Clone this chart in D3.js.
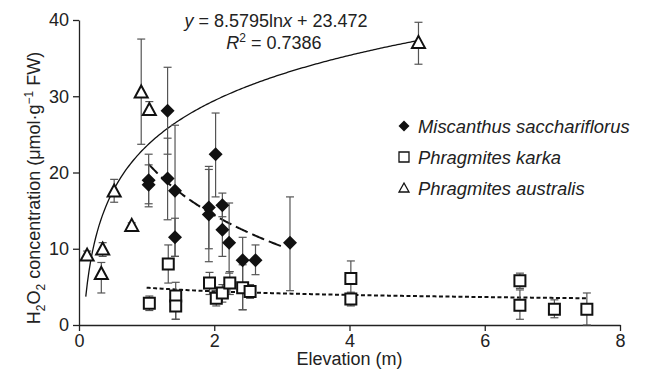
<!DOCTYPE html>
<html>
<head>
<meta charset="utf-8">
<script src="https://cdn.jsdelivr.net/npm/d3@7"></script>
<style>
  body { margin: 0; background: #fff; }
  svg text { font-family: "Liberation Sans", Arial, sans-serif; fill: #222; }
</style>
</head>
<body>
<div id="chart"></div>
<script>
// data: [elevation, H2O2, error low, error high]
const miscanthus = [
  [1.03, 19.0, 15.5, 22.4], [1.03, 18.4, 15.9, 21.0], [1.31, 28.1, 22.4, 33.8],
  [1.31, 19.2, 13.8, 24.5], [1.42, 17.6, 9.0, 26.2], [1.42, 11.5, 9.0, 14.0],
  [1.92, 15.4, 10.0, 20.8], [1.92, 14.5, 8.3, 20.4], [2.02, 22.4, 16.8, 27.8],
  [2.12, 15.7, 14.2, 17.3], [2.12, 12.5, 9.0, 16.0], [2.22, 10.8, 6.8, 16.0],
  [2.42, 8.5, 2.0, 11.5], [2.61, 8.5, 6.6, 10.5], [3.12, 10.8, 4.5, 16.8]
];
const karka = [
  [1.04, 2.85, 1.9, 3.8], [1.32, 8.0, 5.5, 10.5], [1.43, 3.8, 0.75, 5.6],
  [1.43, 2.5, 0.75, 4.5], [1.93, 5.5, 4.0, 6.9], [2.03, 3.5, 2.5, 4.5],
  [2.12, 4.2, 3.0, 5.3], [2.23, 5.5, 4.0, 7.0], [2.42, 4.9, 2.0, 7.9],
  [2.53, 4.4, 3.5, 5.3], [4.02, 6.1, 3.8, 8.4], [4.02, 3.4, 2.5, 4.3],
  [6.52, 5.8, 4.8, 6.8], [6.52, 2.6, 0.75, 4.6], [7.03, 2.05, 0.95, 3.3],
  [7.51, 2.05, 0, 4.2]
];
const australis = [
  [0.12, 9.1, 8.5, 9.7], [0.35, 9.9, 9.0, 10.8], [0.33, 6.7, 4.2, 8.2],
  [0.52, 17.5, 16.1, 19.1], [0.78, 13.0, 12.6, 13.4], [0.92, 30.5, 23.7, 37.5],
  [1.04, 28.2, 27.6, 29.3], [5.02, 37.0, 34.2, 39.7]
];

// log fits y = a ln x + b, with the x range each is drawn over
const fitAustralis = { a: 8.5795, b: 23.472, from: 0.1, to: 5.0 };
const fitMiscanthus = { a: -10.1, b: 21.4, from: 1.03, to: 3.05 };
const fitKarka = { a: -0.69, b: 4.9, from: 1.0, to: 7.5 };

const xTicks = [0, 2, 4, 6, 8];
const yTicks = [0, 10, 20, 30, 40];
const legendLabels = ["Miscanthus sacchariflorus", "Phragmites karka", "Phragmites australis"];

const W = 652, H = 375;
const margin = { top: 20, right: 32, bottom: 50, left: 79 };
const width = W - margin.left - margin.right,
  height = H - margin.top - margin.bottom;

const svg = d3.select("#chart").append("svg")
  .attr("width", W).attr("height", H);
const g = svg.append("g").attr("transform", `translate(${margin.left},${margin.top})`);

const x = d3.scaleLinear().domain([0, 8]).range([0, 541]);
const y = d3.scaleLinear().domain([0, 40]).range([height, 0]);

// axes
const xAxis = g.append("g").attr("transform", `translate(0,${height})`)
  .call(d3.axisBottom(x).tickValues(xTicks).tickSize(6).tickPadding(3).tickSizeOuter(0));
const yAxis = g.append("g")
  .call(d3.axisLeft(y).tickValues(yTicks).tickSize(6).tickPadding(4).tickSizeOuter(0));
[xAxis, yAxis].forEach((a) => {
  a.selectAll("path, line").attr("stroke", "#222").attr("stroke-width", 1.3);
  a.selectAll("text").style("font-size", "18px").attr("fill", "#222");
});

// axis titles
svg.append("text").attr("x", margin.left + x(4)).attr("y", 365)
  .attr("text-anchor", "middle").style("font-size", "18px").text("Elevation (m)");

const yl = svg.append("text").attr("transform", "translate(40,188) rotate(-90)")
  .attr("text-anchor", "middle").style("font-size", "18px");
yl.append("tspan").text("H");
yl.append("tspan").attr("dy", 5).style("font-size", "12px").text("2");
yl.append("tspan").attr("dy", -5).text("O");
yl.append("tspan").attr("dy", 5).style("font-size", "12px").text("2");
yl.append("tspan").attr("dy", -5).text(" concentration (μmol·g");
yl.append("tspan").attr("dy", -7).style("font-size", "12px").text("−1");
yl.append("tspan").attr("dy", 7).text(" FW)");

// fitted curves
function fitLine(f) {
  const pts = d3.range(0, 201).map((i) => {
    const xv = f.from + (f.to - f.from) * i / 200;
    return [xv, f.a * Math.log(xv) + f.b];
  });
  return d3.line().x((d) => x(d[0])).y((d) => y(d[1]))(pts);
}
g.append("path").attr("d", fitLine(fitAustralis)).attr("fill", "none")
  .attr("stroke", "#111").attr("stroke-width", 1.3);
g.append("path").attr("d", fitLine(fitMiscanthus)).attr("fill", "none")
  .attr("stroke", "#111").attr("stroke-width", 2).attr("stroke-dasharray", "13,5");
g.append("path").attr("d", fitLine(fitKarka)).attr("fill", "none")
  .attr("stroke", "#111").attr("stroke-width", 2).attr("stroke-dasharray", "4,2.5");

// error bars
function errorBars(data) {
  const eb = g.append("g").attr("stroke", "#555").attr("stroke-width", 1.2);
  eb.selectAll(".v").data(data).join("line")
    .attr("x1", (d) => x(d[0])).attr("x2", (d) => x(d[0]))
    .attr("y1", (d) => y(d[2])).attr("y2", (d) => y(d[3]));
  [2, 3].forEach((k) => {
    eb.selectAll(".c" + k).data(data).join("line")
      .attr("x1", (d) => x(d[0]) - 4).attr("x2", (d) => x(d[0]) + 4)
      .attr("y1", (d) => y(d[k])).attr("y2", (d) => y(d[k]));
  });
}
errorBars(miscanthus);
errorBars(karka);
errorBars(australis);

// markers
const diamond = "M0,-7L7,0L0,7L-7,0Z";
const square = "M-5.5,-5.5H5.5V5.5H-5.5Z";
const triangle = "M0,-7L6.5,5L-6.5,5Z";

g.selectAll(".sq").data(karka).join("path")
  .attr("transform", (d) => `translate(${x(d[0])},${y(d[1])})`)
  .attr("d", square).attr("fill", "#fff").attr("stroke", "#111").attr("stroke-width", 2);
g.selectAll(".tri").data(australis).join("path")
  .attr("transform", (d) => `translate(${x(d[0])},${y(d[1])})`)
  .attr("d", triangle).attr("fill", "#fff").attr("stroke", "#111").attr("stroke-width", 2);
g.selectAll(".dia").data(miscanthus).join("path")
  .attr("transform", (d) => `translate(${x(d[0])},${y(d[1])})`)
  .attr("d", diamond).attr("fill", "#111");

// equation
svg.append("text").attr("x", 276).attr("y", 27).attr("text-anchor", "middle")
  .style("font-size", "18px")
  .html('<tspan font-style="italic">y</tspan> = 8.5795ln<tspan font-style="italic">x</tspan> + 23.472');
const r2 = svg.append("text").attr("x", 274).attr("y", 49).attr("text-anchor", "middle")
  .style("font-size", "18px");
r2.append("tspan").attr("font-style", "italic").text("R");
r2.append("tspan").attr("dy", -7).style("font-size", "12px").text("2");
r2.append("tspan").attr("dy", 7).text(" = 0.7386");

// legend
const legend = svg.append("g").attr("transform", "translate(404,126)");
const legendShapes = [
  { d: "M0,-5.5L5.5,0L0,5.5L-5.5,0Z", fill: "#111", sw: 0 },
  { d: "M-5,-5H5V5H-5Z", fill: "#fff", sw: 1.3 },
  { d: "M0,-5L5,4L-5,4Z", fill: "#fff", sw: 1.3 }
];
legendLabels.forEach((lab, i) => {
  const row = legend.append("g").attr("transform", `translate(0,${i * 31})`);
  row.append("path").attr("d", legendShapes[i].d).attr("fill", legendShapes[i].fill)
    .attr("stroke", "#111").attr("stroke-width", legendShapes[i].sw);
  row.append("text").attr("x", 14).attr("y", 6.5).style("font-size", "18.4px")
    .style("font-style", "italic").text(lab);
});
</script>
</body>
</html>
